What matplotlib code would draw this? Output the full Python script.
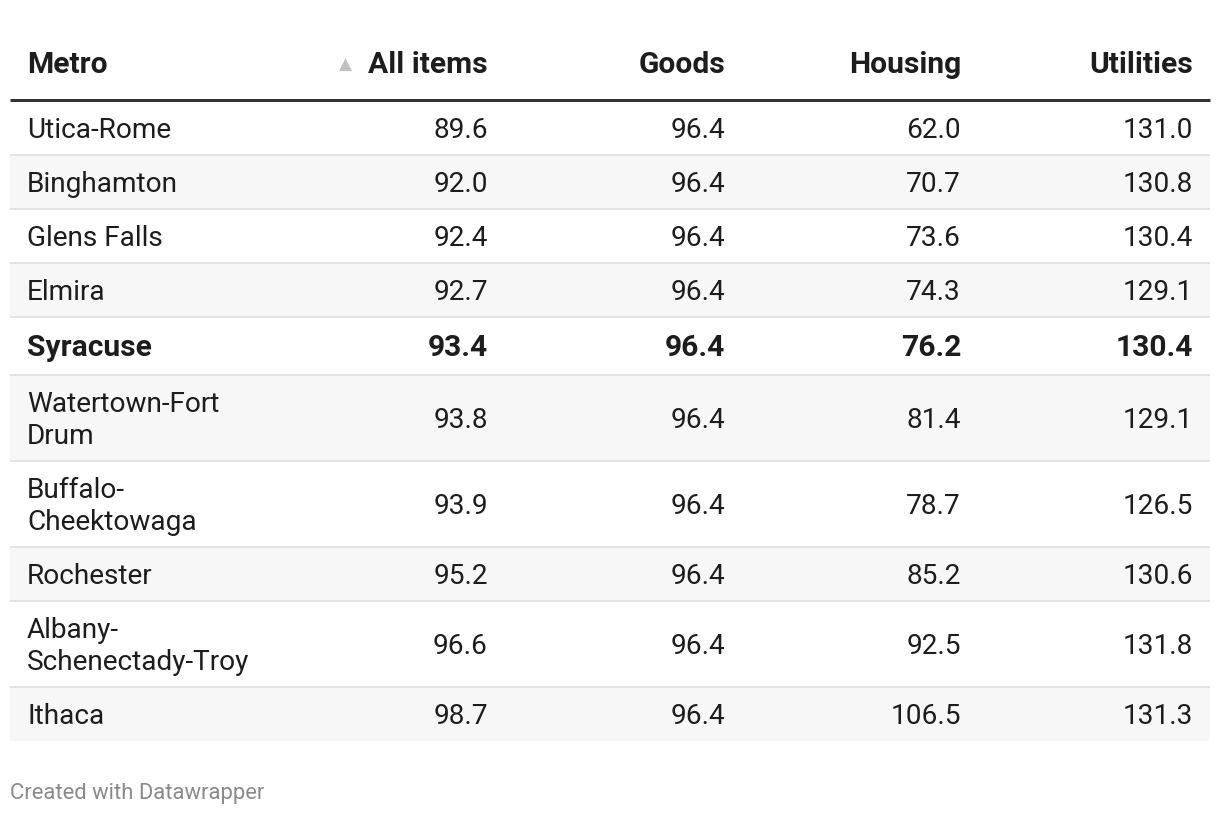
import matplotlib.pyplot as plt
from matplotlib.patches import Rectangle

plt.rcParams['font.family'] = ['Roboto', 'DejaVu Sans']

# Table data
metros = ['Utica-Rome', 'Binghamton', 'Glens Falls', 'Elmira', 'Syracuse',
          'Watertown-Fort\nDrum', 'Buffalo-\nCheektowaga', 'Rochester',
          'Albany-\nSchenectady-Troy', 'Ithaca']
all_items = [89.6, 92.0, 92.4, 92.7, 93.4, 93.8, 93.9, 95.2, 96.6, 98.7]
goods = [96.4, 96.4, 96.4, 96.4, 96.4, 96.4, 96.4, 96.4, 96.4, 96.4]
housing = [62.0, 70.7, 73.6, 74.3, 76.2, 81.4, 78.7, 85.2, 92.5, 106.5]
utilities = [131.0, 130.8, 130.4, 129.1, 130.4, 129.1, 126.5, 130.6, 131.8, 131.3]
headers = ['Metro', 'All items', 'Goods', 'Housing', 'Utilities']
highlight = 'Syracuse'

W, H = 1220, 816
fig = plt.figure(figsize=(W / 100, H / 100), dpi=100)
ax = fig.add_axes([0, 0, 1, 1])
ax.set_xlim(0, W)
ax.set_ylim(H, 0)
ax.axis('off')

left, right = 10, 1210
name_x = 27
col_right = [488, 725, 961, 1193]
px = 0.72  # px -> pt at 100 dpi
text_color = '#1d1d1d'

# header
hdr_fs = 30
ax.text(name_x, 73, headers[0], ha='left', va='baseline', fontsize=hdr_fs * px,
        fontweight='bold', color=text_color)
for x, h in zip(col_right, headers[1:]):
    ax.text(x, 73, h, ha='right', va='baseline', fontsize=hdr_fs * px,
            fontweight='bold', color=text_color)
ax.text(346, 65, '\u25B2', ha='center', va='center', fontsize=17 * px,
        color='#c0c0c0', family='DejaVu Sans')
ax.plot([left, right], [99.5, 99.5], color='#333333', lw=3 * px,
        solid_capstyle='butt')

# rows
y = 101
for i, name in enumerate(metros):
    lines = name.split('\n')
    bold = name == highlight
    fs = 30 if bold else 28
    lh = 36 if bold else 32
    rh = 22 + lh * len(lines)
    if i % 2 == 1:
        ax.add_patch(Rectangle((left, y), right - left, rh, color='#f7f7f7',
                               lw=0, zorder=0))
    cy = y + rh / 2
    weight = 'bold' if bold else 'normal'
    off = 0.34 * fs
    for k, line in enumerate(lines):
        ly = cy + (k - (len(lines) - 1) / 2) * lh
        ax.text(name_x, ly + off, line, ha='left', va='baseline',
                fontsize=fs * px, fontweight=weight, color=text_color)
    vals = [all_items[i], goods[i], housing[i], utilities[i]]
    for x, v in zip(col_right, vals):
        ax.text(x, cy + off, f'{v:.1f}', ha='right', va='baseline',
                fontsize=fs * px, fontweight=weight, color=text_color)
    y += rh
    if i < len(metros) - 1:
        ax.plot([left, right], [y, y], color='#e3e3e3', lw=2 * px, zorder=1,
                solid_capstyle='butt')

ax.text(10, 799, 'Created with Datawrapper', ha='left', va='baseline',
        fontsize=22 * px, color='#8a8a8a')

fig.savefig('out.png', dpi=100, facecolor='white')
